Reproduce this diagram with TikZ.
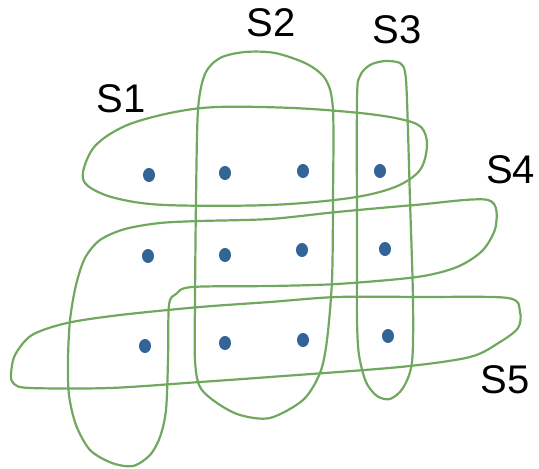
\documentclass[tikz,border=0pt]{standalone}
\usepackage{fontspec}
\usetikzlibrary{shapes.geometric}
\setmainfont{Liberation Sans}
\definecolor{setgreen}{RGB}{112,168,96}
\definecolor{dotblue}{RGB}{50,100,150}
\begin{document}
\begin{tikzpicture}[x=1pt,y=-1pt,
  setline/.style={draw=setgreen,line width=2.2pt,line join=round},
  dotnode/.style={ellipse,fill=dotblue,inner sep=0pt,minimum width=12pt,minimum height=14pt},
  lab/.style={font=\fontsize{40}{40}\selectfont,text=black,inner sep=0pt}]
\useasboundingbox (0,0) rectangle (539,469);
% S1
\draw[setline] plot[smooth cycle,tension=0.55] coordinates {(83,172) (95,146) (125,126) (170,113) (217,107) (293,108) (360,113) (400,119) (421,127) (427,145) (420,170) (395,187) (350,198) (270,205) (165,205) (115,198) (88,186)};
% S2
\draw[setline] plot[smooth cycle,tension=0.5] coordinates {(195,300) (196,200) (198,110) (205,74) (220,58) (245,52) (275,53) (307,64) (326,80) (333,110) (333,200) (332,280) (327,340) (320,373) (303,400) (270,418) (240,415) (217,403) (200,387) (195,360)};
% S3
\draw[setline] plot[smooth cycle,tension=0.5] coordinates {(357,320) (357,250) (357,100) (360,76) (370,65) (385,61) (400,63) (405,72) (407,100) (410,200) (413,300) (412,362) (403,388) (390,399) (377,396) (366,382) (359,355)};
% S4
\draw[setline] plot[smooth cycle,tension=0.5] coordinates {(488,200) (415,205) (337,212) (270,219) (200,221) (160,223) (125,229) (100,240) (85,258) (76,285) (70,320) (68,360) (69,395) (76,425) (90,450) (112,463) (133,466) (150,455) (160,437) (166,410) (168,360) (169,305) (176,294) (192,287) (270,286) (337,284) (417,277) (457,267) (483,250) (496,225)};
% S5
\draw[setline] plot[smooth cycle,tension=0.5] coordinates {(11,375) (15,355) (32,335) (67,323) (120,315) (200,307) (270,302) (337,297) (420,297) (508,298) (520,312) (518,328) (500,342) (470,357) (400,367) (270,377) (200,382) (110,388) (30,388) (14,384)};
% dots
\node[dotnode] (d11) at (149,175) {};
\node[dotnode] (d12) at (225,173) {};
\node[dotnode] (d13) at (303,171) {};
\node[dotnode] (d14) at (380,171) {};
\node[dotnode] (d21) at (148,256) {};
\node[dotnode] (d22) at (225,255) {};
\node[dotnode] (d23) at (302,250) {};
\node[dotnode] (d24) at (385,249) {};
\node[dotnode] (d31) at (145,346) {};
\node[dotnode] (d32) at (225,343) {};
\node[dotnode] (d33) at (303,340) {};
\node[dotnode] (d34) at (388,336) {};
% labels
\node[lab] (l1) at (121,99) {S1};
\node[lab] (l2) at (271,23) {S2};
\node[lab] (l3) at (397,30) {S3};
\node[lab,anchor=west] (l4) at (486,170) {S4};
\node[lab] (l5) at (505,380) {S5};
\end{tikzpicture}
\end{document}
